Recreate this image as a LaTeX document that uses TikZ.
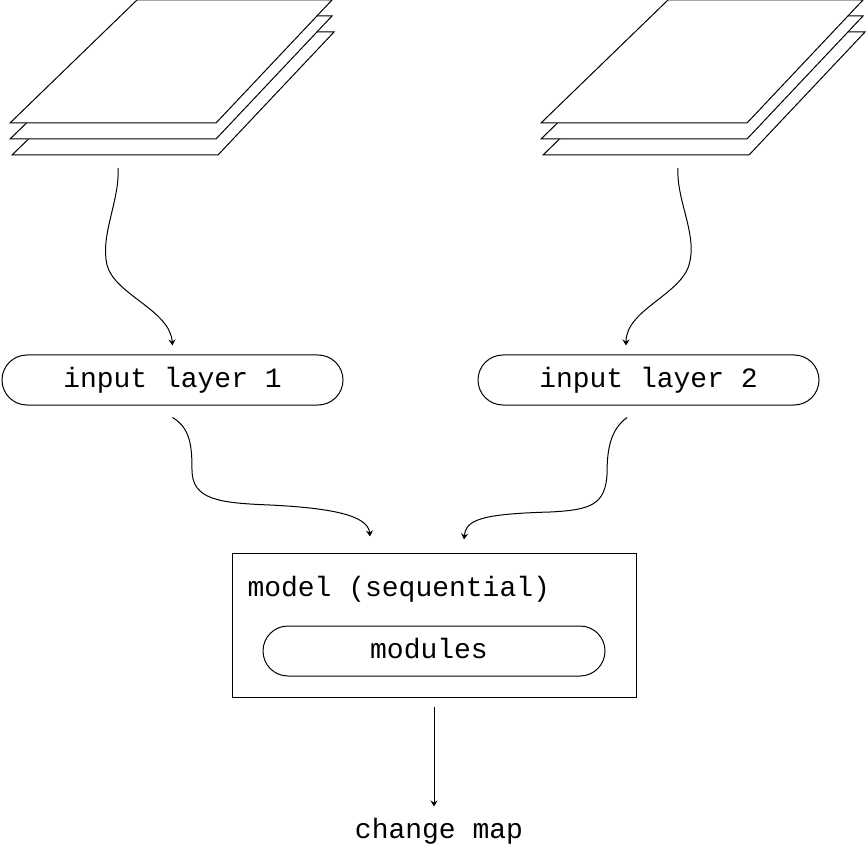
\documentclass[tikz,border=0pt]{standalone}
\usepackage{fontspec}
\setmonofont{Liberation Mono}
\usetikzlibrary{arrows.meta}

\begin{document}
\begin{tikzpicture}[x=1pt, y=-1pt, line width=1pt,
    txt/.style={font=\ttfamily\fontsize{28}{34}\selectfont, text height=18pt, text depth=4pt, inner sep=0pt},
    pill/.style={txt, draw, rounded corners=25pt, minimum width=341pt, minimum height=50pt},
    arr/.style={-{Stealth[length=6pt,width=7pt,inset=2pt]}}]
    \useasboundingbox (0,0) rectangle (867,858);
    % stacks of layers
    \foreach \s in {0,531}
      \foreach \d/\e in {32/2,16/0,0/0}
        \draw[fill=white] ({10+\s+\e},{123+\d}) -- ({216+\s+\e},{123+\d}) -- ({332+\s+\e},{\d}) -- ({137+\s+\e},{\d}) -- cycle;
    \coordinate (stack1) at (118,168);
    \coordinate (stack2) at (678,168);
    \node[pill] (in1) at (172.5,380) {input layer 1};
    \node[pill] (in2) at (648.5,380) {input layer 2};
    \node[draw, minimum width=404pt, minimum height=144pt, inner sep=0pt] (model) at (434,625) {};
    \node[txt, anchor=base west] (mlabel) at (247,596) {model (sequential)};
    \node[pill, minimum width=342pt] (modules) at (434,651) {modules\kern10pt};
    \node[txt] (cmap) at (439,831) {change map};
    \draw[arr] (stack1) .. controls (120,200) and (100,235) .. (107,265) .. controls (115,295) and (170,310) .. ([yshift=9pt]in1.north);
    \draw[arr] (stack2) .. controls (676,200) and (698,235) .. (689,265) .. controls (680,295) and (626,310) .. ([xshift=-22.5pt,yshift=9pt]in2.north);
    \draw[arr] ([yshift=-12pt]in1.south) .. controls (190,428) and (192,445) .. (192,470) .. controls (192,500) and (220,503) .. (270,505) .. controls (330,508) and (368,515) .. ([xshift=-64pt,yshift=16pt]model.north);
    \draw[arr] ([xshift=-21.5pt,yshift=-12pt]in2.south) .. controls (610,430) and (607,450) .. (607,475) .. controls (605,505) and (590,510) .. (550,512) .. controls (480,514) and (466,520) .. ([xshift=30pt,yshift=13pt]model.north);
    \draw[arr, shorten <=9pt, shorten >=13pt] (model.south) -- (model.south |- cmap.north);
\end{tikzpicture}
\end{document}
